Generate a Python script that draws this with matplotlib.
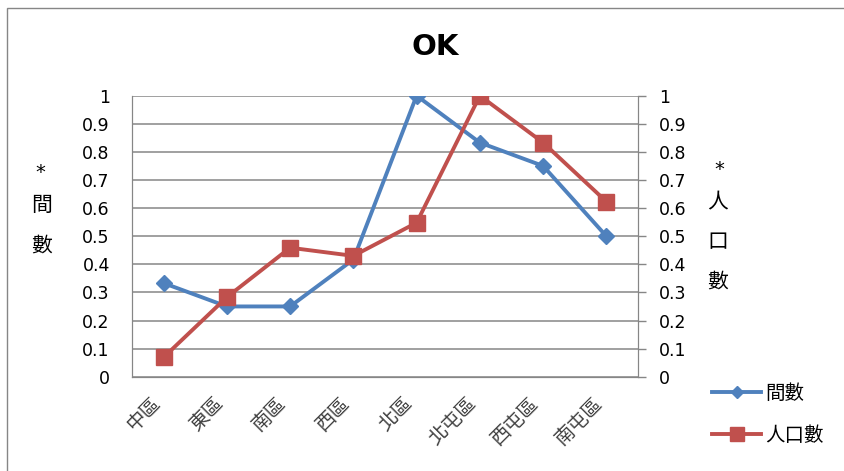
import matplotlib.pyplot as plt
from matplotlib.patches import Rectangle

# normalised store counts and population per Taichung district
districts = ['中區', '東區', '南區', '西區', '北區', '北屯區', '西屯區', '南屯區']
stores = [0.333, 0.25, 0.25, 0.417, 1.0, 0.833, 0.75, 0.5]
population = [0.069, 0.283, 0.459, 0.430, 0.548, 1.0, 0.833, 0.623]
yticks = [0, 0.1, 0.2, 0.3, 0.4, 0.5, 0.6, 0.7, 0.8, 0.9, 1.0]
ytick_labels = ['0', '0.1', '0.2', '0.3', '0.4', '0.5', '0.6', '0.7', '0.8', '0.9', '1']

plt.rcParams['font.family'] = ['DejaVu Sans', 'Noto Sans CJK TC']

BLUE = '#4F81BD'
RED = '#C0504D'
GRID = '#868686'

W, H = 845, 471
fig = plt.figure(figsize=(W / 100, H / 100), dpi=100)
ax = fig.add_axes([132 / W, 1 - 376.7 / H, (638 - 132) / W, (376.7 - 95.7) / H])
ax2 = ax.twinx()

x = list(range(len(districts)))
l1, = ax.plot(x, stores, color=BLUE, lw=2.8, marker='D', ms=8, label='間數')
l2, = ax2.plot(x, population, color=RED, lw=2.8, marker='s', ms=12, label='人口數')

ax.set_xlim(-0.5, len(districts) - 0.5)
for a in (ax, ax2):
    a.set_ylim(0, 1)
    a.set_yticks(yticks, ytick_labels)
    a.spines['top'].set_visible(False)
    for s in a.spines.values():
        s.set_color(GRID)

ax.yaxis.grid(True, color=GRID, lw=1.1)
ax.set_axisbelow(True)
ax.tick_params(axis='y', length=0, pad=16, labelsize=12.5)
ax2.tick_params(axis='y', length=6, width=1, color=GRID, pad=9, labelsize=12.5)

ax.set_xticks(x)
ax.set_xticklabels(districts, rotation=45, ha='right', fontsize=14, color='#404040')
ax.tick_params(axis='x', length=0, pad=12)

# title
fig.text(435 / W, 1 - 47 / H, 'OK', ha='center', va='center', fontsize=21, fontweight='bold')

# vertical axis titles, one character per line
left_title = [('*', 40, 173), ('間', 42, 205), ('數', 42, 246)]
right_title = [('*', 719, 170), ('人', 718, 202), ('口', 718, 242), ('數', 718, 282)]
for ch, px, py in left_title + right_title:
    size = 14 if ch == '*' else 15
    fig.text(px / W, 1 - py / H, ch, ha='center', va='center', fontsize=size)

fig.legend([l1, l2], ['間數', '人口數'], loc='upper left',
           bbox_to_anchor=(695 / W, 1 - 366 / H), frameon=False, fontsize=14,
           handlelength=2.5, handletextpad=0.2, labelspacing=1.2, markerscale=0.8)

# outer chart frame
fig.patches.append(Rectangle((7 / W, -0.1), 1.2, 1.1 - 8 / H, transform=fig.transFigure,
                             fill=False, ec=GRID, lw=1))

fig.savefig('out.png', dpi=100)
